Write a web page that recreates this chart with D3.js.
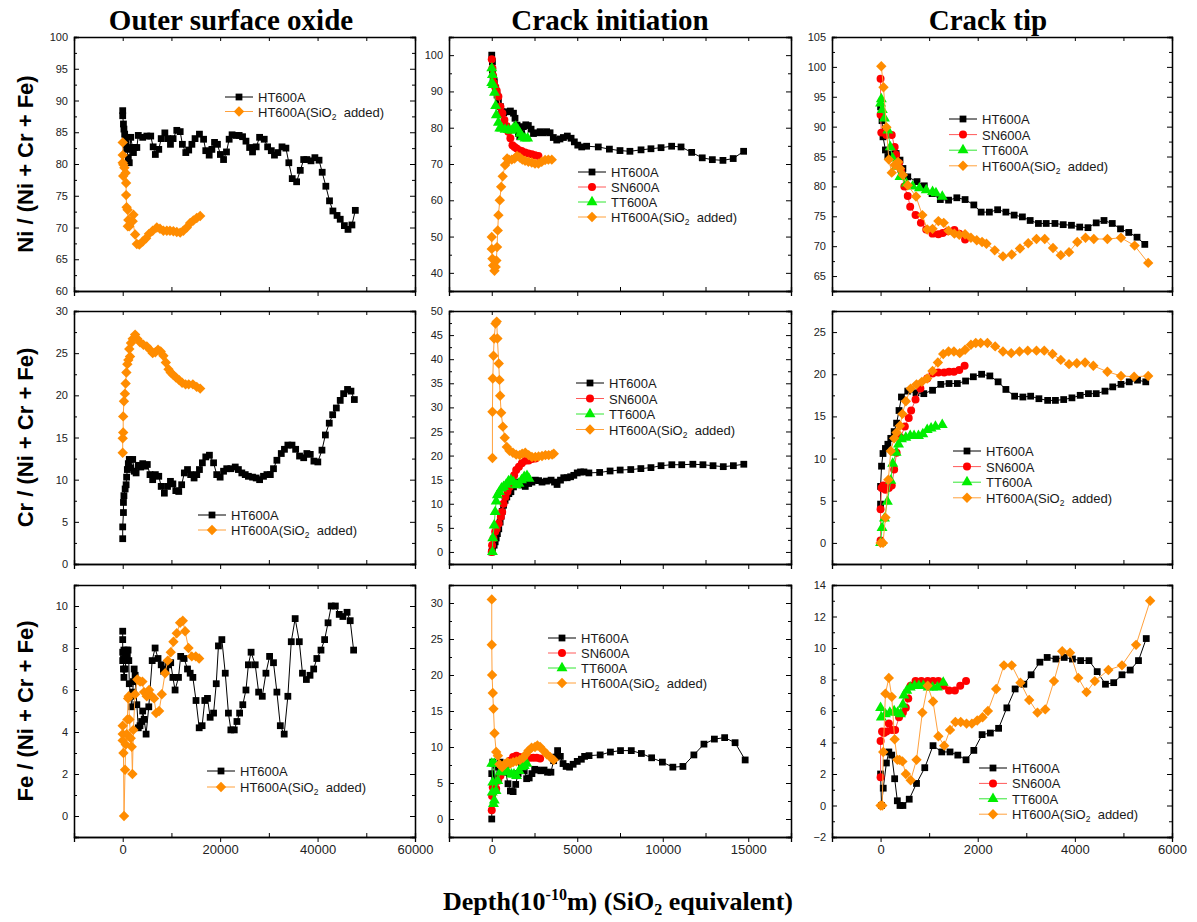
<!DOCTYPE html>
<html>
<head>
<meta charset="utf-8">
<script src="https://cdn.jsdelivr.net/npm/d3@7"></script>
<style>
  body { margin: 0; background: #fff; }
  svg { display: block; }
  text { white-space: pre; }
</style>
</head>
<body>
<svg id="chart" width="1197" height="922"></svg>
<script>
// Ni / Cr / Fe fractions vs depth, three locations, four materials

// --- Ni / (Ni + Cr + Fe) ---
var niOuterHT = [[0,88.4],[0,87.6],[150,86.3],[250,85.5],[400,84.7],[550,83.9],[700,83.1],[800,82.3],[1150,81.0],[1350,80.2],[1650,84.2],[2000,82.6],[2200,81.8],[2450,82.6],[2900,82.6],[3200,84.5],[4100,84.2],[4950,84.4],[5750,84.4],[6250,82.7],[6700,81.5],[7400,82.3],[7900,84.0],[8650,84.9],[9250,84.0],[9800,83.1],[10350,84.0],[11100,85.3],[11800,85.1],[12250,83.1],[12950,81.8],[13550,82.2],[14200,83.1],[14850,84.0],[15750,84.7],[16600,83.9],[17050,82.1],[17750,81.4],[18300,82.3],[18850,83.4],[19450,83.1],[20050,81.5],[20700,80.7],[21300,81.9],[21850,83.9],[22450,84.6],[23300,84.5],[23900,84.5],[24600,84.3],[25300,83.6],[26050,82.6],[26650,81.9],[27400,82.7],[28100,84.2],[29050,83.9],[29750,82.7],[30500,82.1],[31150,81.4],[31850,81.8],[32700,82.7],[33500,82.5],[34100,80.2],[34800,77.7],[35700,77.2],[36450,79.0],[37150,80.7],[37800,80.7],[38650,80.5],[39450,81.0],[40300,80.6],[40950,78.7],[41700,76.5],[42450,74.2],[43150,72.6],[44000,71.9],[44650,71.3],[45500,70.3],[46250,69.7],[47050,70.4],[47750,72.7]];
var niOuterSiO2 = [[0,83.4],[0,81.4],[0,80.2],[150,79.9],[350,79.4],[100,78.1],[600,78.6],[700,77.0],[700,75.1],[800,73.2],[1000,72.8],[1150,71.2],[1050,70.2],[1350,70.2],[1850,71.0],[2200,72.0],[2050,71.0],[2550,68.9],[2900,67.4],[3400,67.3],[4100,67.8],[4800,68.3],[5400,69.0],[6150,69.5],[7000,70.0],[7650,69.8],[8350,69.5],[9050,69.5],[9700,69.5],[10400,69.4],[11100,69.3],[11800,69.2],[12450,69.5],[13150,70.0],[13850,70.7],[14500,71.1],[15200,71.5],[15900,71.8]];

var niInitHT = [[0,100],[40,98.2],[40,95.9],[80,93.6],[150,92.7],[230,90.9],[310,89.0],[390,87.2],[510,85.8],[580,84.4],[700,84.1],[900,84.4],[1090,84.6],[1270,84.0],[1360,82.6],[1480,80.7],[1560,78.4],[1640,77.5],[1750,78.4],[1850,80.3],[1990,80.8],[2140,80.6],[2300,79.6],[2440,78.4],[2630,78.6],[2830,78.9],[3020,78.6],[3210,78.9],[3410,78.6],[3600,77.3],[3800,76.6],[3990,76.9],[4190,77.3],[4420,77.7],[4640,77.1],[4830,76.1],[5030,75.2],[5260,74.7],[5550,74.9],[6230,74.7],[6880,74.1],[7500,73.7],[8080,73.5],[8730,73.9],[9310,74.2],[9900,74.5],[10520,74.9],[11070,74.7],[11690,73.2],[12310,71.7],[12900,71.2],[13520,71.0],[14120,71.5],[14730,73.5]];
var niInitSN = [[0,98.9],[40,96.4],[80,94.3],[120,92.4],[200,91.2],[290,90.2],[390,88.6],[510,85.8],[620,84.0],[740,82.1],[860,80.5],[970,78.9],[1090,77.1],[1210,75.2],[1330,74.7],[1460,74.3],[1600,73.8],[1750,73.6],[1950,73.2],[2140,72.9],[2340,72.7],[2530,72.4],[2730,72.2]];
var niInitTT = [[0,96.4],[40,94.6],[0,92.4],[80,91.8],[160,89.7],[230,86.0],[270,83.5],[390,81.4],[470,79.8],[580,79.8],[780,79.5],[970,79.4],[1130,79.2],[1270,79.8],[1400,80.3],[1520,79.5],[1660,78.4],[1790,77.5],[1950,77.1],[2100,77.1]];
var niInitSiO2 = [[0,49.9],[0,46.6],[40,43.9],[80,42.0],[160,40.6],[230,41.6],[270,43.4],[310,47.1],[350,51.7],[390,55.9],[470,60.0],[550,63.7],[640,66.6],[780,69.7],[900,71.5],[1010,71.2],[1170,71.2],[1330,71.5],[1480,72.2],[1640,71.8],[1790,71.2],[1950,70.9],[2140,70.6],[2340,70.4],[2530,70.1],[2730,70.1],[2920,70.6],[3120,71.1],[3310,71.2],[3510,71.2]];

var niTipHT = [[0,93.3],[30,91.0],[50,88.3],[100,86.1],[150,85.0],[200,85.4],[290,85.4],[320,85.5],[400,84.4],[460,83.0],[560,81.6],[750,80.8],[900,80.1],[1060,78.8],[1230,77.8],[1400,77.7],[1570,78.1],[1740,77.8],[1920,76.9],[2070,75.7],[2240,75.7],[2410,76.1],[2580,75.7],[2750,75.2],[2920,74.9],[3080,74.3],[3250,73.8],[3410,73.8],[3590,73.8],[3760,73.6],[3930,73.5],[4100,73.2],[4270,73.1],[4440,73.9],[4600,74.3],[4770,73.8],[4940,72.9],[5110,72.3],[5280,71.5],[5440,70.3]];
var niTipSN = [[0,98.0],[0,92.0],[15,89.0],[120,88.6],[230,88.6],[290,86.6],[320,85.3],[380,83.9],[420,82.7],[490,80.0],[560,78.4],[610,76.6],[720,75.2],[830,73.9],[940,72.8],[1070,72.1],[1190,72.0],[1280,72.2],[1380,72.5],[1520,72.7],[1620,72.1],[1740,71.1]];
var niTipTT = [[0,93.9],[15,94.6],[35,92.8],[80,91.4],[150,89.4],[200,86.6],[250,84.7],[320,83.3],[400,81.6],[530,80.5],[660,80.0],[800,79.7],[940,79.4],[1070,79.1],[1140,78.9],[1270,78.3]];
var niTipSiO2 = [[15,100.1],[60,96.6],[120,89.9],[170,84.5],[230,82.3],[290,83.6],[360,84.1],[400,83.0],[460,81.9],[560,80.2],[730,78.3],[860,75.2],[960,72.8],[1070,72.9],[1190,74.2],[1300,73.9],[1400,72.6],[1520,72.1],[1620,71.9],[1740,72.0],[1860,71.4],[1980,71.0],[2090,70.7],[2180,70.4],[2350,69.3],[2520,68.3],[2700,68.6],[2870,69.6],[3040,70.5],[3210,71.2],[3380,71.2],[3550,69.7],[3710,68.5],[3880,69.0],[4050,70.7],[4220,71.4],[4390,71.2],[4670,71.2],[4950,71.4],[5230,70.1],[5510,67.2]];

// --- Cr / (Ni + Cr + Fe) ---
var crOuterHT = [[0,3.0],[0,4.4],[150,6.1],[150,7.3],[250,8.1],[500,8.9],[700,9.4],[800,10.3],[950,11.2],[1150,11.9],[1350,12.4],[1650,11.4],[2050,12.4],[2350,11.0],[2750,10.8],[3200,11.7],[3700,11.5],[4100,11.9],[4600,11.6],[5050,11.8],[5600,10.6],[6150,10.0],[6700,10.6],[7400,10.4],[7900,9.2],[8550,8.4],[9200,9.2],[9800,9.8],[10300,9.5],[10900,8.7],[11500,8.6],[12100,9.4],[12650,10.8],[13300,11.2],[13950,10.6],[14650,10.2],[15200,10.6],[15750,11.2],[16350,12.0],[17050,12.7],[17800,12.9],[18650,12.0],[19300,10.6],[20000,10.3],[20700,11.0],[21350,11.3],[22200,11.3],[23100,11.5],[23750,11.2],[24450,10.8],[25150,10.6],[25800,10.4],[26650,10.3],[27400,10.2],[28100,10.0],[28900,10.4],[29600,10.6],[30300,10.6],[30950,11.3],[31650,12.3],[32550,13.1],[33200,13.6],[33900,14.1],[34750,14.1],[35500,13.6],[36300,12.8],[37150,12.6],[37800,13.1],[38500,13.0],[39250,12.2],[40050,12.1],[40900,13.5],[41600,15.3],[42400,16.7],[43100,17.7],[43850,18.5],[44650,19.4],[45350,20.2],[46150,20.7],[46850,20.5],[47550,19.5]];
var crOuterSiO2 = [[0,13.2],[0,14.9],[100,15.6],[100,17.5],[250,19.3],[450,20.2],[600,21.4],[750,22.7],[950,23.7],[1150,24.2],[1500,24.6],[1350,25.5],[1700,26.2],[2050,26.7],[2550,27.2],[3000,26.7],[3550,26.3],[4250,26.0],[4950,25.8],[5600,25.4],[6150,25.0],[6700,25.1],[7250,25.4],[7800,25.2],[8350,24.7],[8850,23.9],[9400,23.1],[9850,22.7],[10400,22.4],[10950,22.1],[11600,21.8],[12200,21.5],[12900,21.3],[13550,21.3],[14400,21.3],[15200,21.0],[15900,20.8]];

var crInitHT = [[0,0],[40,0.7],[140,1.4],[200,2.1],[260,2.9],[330,3.8],[410,4.8],[490,6.2],[550,7.4],[610,8.4],[690,9.7],[780,10.7],[880,11.4],[1000,12.1],[1120,12.5],[1270,13.5],[1430,14.5],[1590,14.2],[1760,13.9],[1960,13.6],[2160,14.2],[2350,14.5],[2550,14.9],[2740,14.8],[2940,14.5],[3200,14.7],[3470,14.9],[3670,14.5],[3820,14.0],[4020,14.9],[4210,15.4],[4410,15.4],[4610,15.6],[4800,15.9],[5000,16.4],[5190,16.6],[5390,16.6],[5680,16.4],[6310,16.5],[6920,16.8],[7510,17.0],[8130,17.1],[8720,17.3],[9310,17.5],[9900,17.9],[10530,18.1],[11110,18.1],[11760,18.2],[12350,18.1],[12940,17.9],[13540,17.7],[14130,17.9],[14740,18.2]];
var crInitSN = [[0,0],[20,1.4],[100,2.8],[200,4.2],[290,4.8],[410,5.9],[530,7.3],[610,8.3],[690,10.0],[800,11.4],[920,12.5],[1040,13.5],[1180,14.5],[1310,15.9],[1430,17.0],[1590,17.7],[1760,18.4],[1960,18.9],[2160,19.0],[2350,19.3],[2550,19.4]];
var crInitTT = [[40,0],[60,2.9],[140,5.5],[200,8.3],[260,10.5],[330,11.8],[450,12.5],[570,13.2],[690,13.5],[840,14.0],[980,14.7],[1120,14.9],[1270,14.5],[1430,13.9],[1590,14.2],[1740,14.9],[1900,15.6],[2060,15.8],[2180,15.2]];
var crInitSiO2 = [[40,19.5],[40,29.1],[60,36.0],[100,40.7],[140,44.3],[220,47.4],[290,47.8],[330,44.3],[410,39.1],[450,35.7],[490,32.4],[550,28.9],[650,26.0],[760,23.7],[880,21.8],[1040,21.0],[1240,20.6],[1430,20.2],[1630,20.1],[1780,20.4],[1960,20.6],[2160,20.1],[2350,19.7],[2550,19.7],[2740,19.8],[2940,19.9],[3140,20.1],[3330,20.1],[3530,20.2],[3630,20.4]];

var crTipHT = [[0,4.6],[0,6.7],[20,9.1],[50,10.6],[100,11.2],[150,11.7],[210,12.4],[280,13.2],[330,14.2],[380,15.7],[430,17.3],[560,18.0],[730,17.8],[890,17.7],[1070,18.1],[1240,18.8],[1410,18.9],[1580,18.9],[1750,19.2],[1910,19.7],[2080,20.0],[2250,19.8],[2420,19.1],[2580,18.2],[2760,17.4],[2930,17.3],[3090,17.4],[3260,17.1],[3440,16.9],[3600,16.9],[3770,17.0],[3940,17.2],[4110,17.5],[4280,17.7],[4440,17.7],[4620,18.0],[4780,18.5],[4950,18.8],[5120,19.1],[5290,19.3],[5460,19.1]];
var crTipSN = [[0,0.3],[0,4.0],[20,6.5],[55,6.8],[100,6.3],[170,6.5],[230,6.8],[280,8.7],[330,10.7],[410,12.5],[500,13.8],[580,14.8],[630,15.7],[720,17.0],[820,18.3],[960,19.5],[1070,20.1],[1190,20.2],[1310,20.2],[1410,20.3],[1510,20.3],[1620,20.5],[1730,21.0]];
var crTipTT = [[0,0],[30,1.8],[80,2.9],[140,4.9],[210,7.4],[250,9.4],[320,10.7],[370,11.7],[430,12.3],[520,12.5],[610,12.7],[690,12.7],[780,12.7],[870,12.9],[960,13.4],[1040,13.6],[1130,13.8],[1270,14.0]];
var crTipSiO2 = [[0,0],[50,0],[100,3.0],[160,7.5],[210,10.9],[280,12.4],[330,13.1],[400,13.9],[450,15.3],[520,16.8],[620,18.3],[740,18.8],[850,19.1],[960,19.5],[1070,20.4],[1180,21.4],[1290,22.4],[1400,22.7],[1510,22.7],[1630,22.5],[1740,22.9],[1860,23.5],[1960,23.7],[2060,23.7],[2200,23.7],[2360,23.3],[2520,22.7],[2690,22.5],[2860,22.7],[3030,22.8],[3210,22.8],[3370,22.8],[3540,22.4],[3710,21.7],[3880,21.2],[4040,21.3],[4210,21.4],[4380,21.0],[4670,20.3],[4950,19.8],[5220,19.7],[5510,19.8]];

// --- Fe / (Ni + Cr + Fe) ---
var feOuterHT = [[0,8.8],[0,8.4],[0,7.8],[0,7.4],[150,7.5],[250,7.9],[150,7.0],[250,6.6],[500,7.0],[700,7.5],[800,7.9],[950,7.6],[1100,7.9],[1250,7.4],[1350,6.3],[1650,5.7],[1850,5.2],[2050,5.9],[2200,6.4],[2350,7.0],[2550,6.7],[2900,5.3],[3200,4.2],[3550,4.3],[3900,4.5],[4100,5.0],[4400,4.6],[4800,3.9],[5350,5.2],[6050,7.4],[6650,8.0],[7250,7.5],[7900,7.2],[8350,6.9],[8850,7.0],[9400,7.2],[9850,7.3],[10300,6.6],[10750,6.0],[11450,6.6],[11900,7.6],[12600,7.5],[13300,7.0],[13850,6.8],[14400,6.6],[15050,5.5],[15700,4.2],[16300,4.3],[16850,5.5],[17400,5.6],[17950,4.7],[18650,4.9],[19200,6.3],[19650,8.1],[20350,8.4],[21050,6.8],[21700,4.9],[22200,4.1],[22900,4.1],[23450,4.5],[24000,4.9],[24650,5.3],[25300,6.0],[25800,7.2],[26350,7.8],[27200,7.2],[27900,5.9],[28650,5.7],[29400,6.8],[30150,7.6],[30950,7.3],[31650,5.9],[32350,4.3],[33150,3.9],[33900,5.7],[34600,8.3],[35400,9.4],[36250,8.3],[36900,6.8],[37700,6.5],[38450,6.7],[39200,7.0],[39850,7.5],[40700,7.9],[41450,8.4],[42150,9.2],[42800,10.0],[43650,10.0],[44450,9.6],[45200,9.5],[46050,9.7],[46700,9.3],[47400,7.9]];
var feOuterSiO2 = [[0,4.3],[0,3.9],[0,3.6],[150,3.0],[270,0.0],[480,2.2],[620,3.4],[820,3.9],[960,4.6],[1100,5.6],[1230,5.7],[1370,4.6],[1650,3.7],[1850,3.3],[1990,2.0],[2190,4.1],[2540,5.8],[3010,6.5],[3560,6.4],[4040,6.4],[4380,5.9],[4930,5.7],[5410,6.0],[5960,5.7],[6440,5.6],[6850,4.9],[7470,5.0],[8020,5.8],[8700,6.8],[9250,7.4],[9860,7.8],[10410,8.3],[11100,8.7],[11780,9.2],[12330,9.3],[12810,8.8],[13500,8.0],[14180,7.6],[15000,7.6],[15690,7.5]];

var feInitHT = [[0,0],[0,6.3],[60,7.9],[220,5.6],[360,7.2],[490,7.9],[650,7.6],[810,6.5],[950,4.9],[1090,3.9],[1250,3.8],[1400,4.8],[1540,6.3],[1740,7.4],[1900,6.7],[2040,5.6],[2190,5.7],[2350,6.3],[2510,6.9],[2670,6.8],[2870,6.7],[3060,6.8],[3260,6.5],[3460,6.5],[3620,8.1],[3740,8.6],[3850,9.5],[4010,8.7],[4170,7.7],[4350,7.3],[4550,7.2],[4760,7.6],[5000,8.0],[5240,8.3],[5430,8.7],[5690,8.8],[6340,8.9],[6940,9.3],[7530,9.5],[8160,9.5],[8750,9.1],[9350,8.5],[9980,7.9],[10590,7.2],[11180,7.3],[11820,8.9],[12410,10.4],[13020,11.1],[13620,11.3],[14230,10.6],[14820,8.2]];
var feInitSN = [[0,1.2],[20,3.2],[60,4.4],[160,4.9],[260,4.2],[380,5.3],[510,6.0],[650,6.7],[850,7.4],[1050,8.1],[1250,8.6],[1440,8.8],[1640,8.6],[1840,8.5],[2040,8.7],[2230,8.5],[2430,8.5],[2630,8.5],[2830,8.4]];
var feInitTT = [[100,2.1],[150,2.6],[30,3.7],[60,5.1],[0,7.7],[150,7.7],[250,3.9],[350,5.3],[500,6.5],[650,6.9],[800,6.7],[950,6.5],[1150,6.2],[1300,6.2],[1450,6.0],[1600,6.7],[1750,7.2],[1900,7.4],[2050,7.7]];
var feInitSiO2 = [[0,30.5],[0,24.2],[20,20.0],[60,17.5],[100,15.3],[160,11.9],[260,9.3],[360,8.8],[450,7.6],[610,7.2],[750,7.6],[910,7.9],[1090,7.7],[1250,7.9],[1440,8.0],[1640,8.2],[1840,8.5],[2000,9.0],[2150,9.5],[2330,9.9],[2530,10.0],[2670,10.2],[2830,10.0],[3020,9.5],[3220,9.0],[3420,8.6],[3620,8.2]];

var feTipHT = [[0,2.0],[20,0],[55,1.1],[120,2.7],[170,3.4],[230,3.2],[290,1.7],[345,0.3],[400,0],[460,0],[590,0.4],[740,1.4],[910,2.4],[1080,3.8],[1260,3.4],[1430,3.4],[1590,3.2],[1760,2.9],[1920,3.5],[2090,4.5],[2260,4.6],[2430,4.9],[2600,6.2],[2770,7.4],[2950,7.7],[3100,8.3],[3280,9.1],[3430,9.4],[3610,9.3],[3780,9.4],[3950,9.3],[4120,9.2],[4290,9.2],[4460,8.5],[4630,7.7],[4800,7.8],[4970,8.3],[5140,8.6],[5310,9.2],[5470,10.6]];
var feTipSN = [[0,1.8],[0,4.1],[30,4.7],[70,4.6],[120,4.7],[170,5.2],[230,4.8],[300,4.8],[380,5.6],[460,5.9],[520,6.2],[570,6.8],[620,7.6],[720,7.9],[840,7.9],[970,7.9],[1080,7.9],[1190,7.9],[1300,7.6],[1410,7.3],[1530,7.3],[1640,7.6],[1760,7.9]];
var feTipTT = [[0,6.2],[15,5.6],[100,5.8],[190,5.9],[280,6.0],[350,5.9],[410,5.8],[460,6.4],[480,7.0],[540,7.3],[610,7.5],[700,7.6],[790,7.6],[880,7.6],[980,7.5],[1070,7.5],[1170,7.5],[1290,7.8]];
var feTipSiO2 = [[0,0],[35,0],[55,3.4],[100,7.1],[170,8.1],[230,6.9],[290,4.2],[345,2.9],[390,2.9],[450,2.8],[520,2.0],[620,1.6],[740,2.9],[860,5.9],[970,7.6],[1080,6.6],[1190,4.4],[1310,3.8],[1430,4.8],[1540,5.3],[1650,5.3],[1770,5.2],[1880,5.2],[1990,5.4],[2100,5.6],[2210,6.0],[2380,7.4],[2540,8.9],[2700,8.9],[2880,7.8],[3060,6.7],[3230,5.9],[3390,6.1],[3570,7.9],[3740,9.8],[3900,9.7],[4070,8.1],[4240,7.2],[4410,7.9],[4690,8.6],[4970,8.9],[5260,10.2],[5550,13.0]];

var columnTitles = ['Outer surface oxide', 'Crack initiation', 'Crack tip'];
var rowTitles = ['Ni / (Ni + Cr + Fe)', 'Cr / (Ni + Cr + Fe)', 'Fe / (Ni + Cr + Fe)'];

// x axis per column: domain, major ticks
var xDomains = [[-10000, 60000], [-2500, 17500], [-1000, 6000]];
var xMajorTicks = [[0, 20000, 40000, 60000], [0, 5000, 10000, 15000], [0, 2000, 4000, 6000]];

// y axis per panel [row][col]
var yDomains = [
    [[60, 100], [35, 105], [62.5, 105]],
    [[0, 30], [-2.5, 50], [-2.5, 27.5]],
    [[-1, 11], [-2.5, 32.5], [-2, 14]]
];
var yMajorTicks = [
    [d3.range(60, 101, 5), d3.range(40, 101, 10), d3.range(65, 106, 5)],
    [d3.range(0, 31, 5), d3.range(0, 51, 5), d3.range(0, 26, 5)],
    [d3.range(0, 11, 2), d3.range(0, 31, 5), d3.range(-2, 15, 2)]
];

var seriesData = [
    [{HT: niOuterHT, SI: niOuterSiO2}, {HT: niInitHT, SN: niInitSN, TT: niInitTT, SI: niInitSiO2}, {HT: niTipHT, SN: niTipSN, TT: niTipTT, SI: niTipSiO2}],
    [{HT: crOuterHT, SI: crOuterSiO2}, {HT: crInitHT, SN: crInitSN, TT: crInitTT, SI: crInitSiO2}, {HT: crTipHT, SN: crTipSN, TT: crTipTT, SI: crTipSiO2}],
    [{HT: feOuterHT, SI: feOuterSiO2}, {HT: feInitHT, SN: feInitSN, TT: feInitTT, SI: feInitSiO2}, {HT: feTipHT, SN: feTipSN, TT: feTipTT, SI: feTipSiO2}]
];

var seriesKeys = ['HT', 'SN', 'TT', 'SI'];
var seriesStyle = {
    HT: {label: 'HT600A', fill: '#000000', line: '#000000', shape: 'square'},
    SN: {label: 'SN600A', fill: '#ff0000', line: '#ff5a5a', shape: 'circle'},
    TT: {label: 'TT600A', fill: '#00ee00', line: '#33e633', shape: 'triangle'},
    SI: {label: 'HT600A(SiO', fill: '#ff8c00', line: '#ffa13d', shape: 'diamond'}
};

// layout
var colBox = [[74, 415], [449, 791], [832, 1172]];
var rowBox = [[37, 291], [311, 564], [585, 837]];
// legend: left x of line sample, y of first row, row step
var legendPos = [
    [[225, 97, 14.5], [578, 172, 15], [949, 119, 15.6]],
    [[198, 515, 15], [576, 383, 15.5], [953, 451, 15.6]],
    [[207, 771, 16], [548, 638, 15], [979, 768, 15.4]]
];

var svg = d3.select('#chart');

var symbolPath = {
    square: d3.symbol().type(d3.symbolSquare).size(46)(),
    circle: d3.symbol().type(d3.symbolCircle).size(50)(),
    triangle: d3.symbol().type(d3.symbolTriangle).size(52)(),
    diamond: 'M0,-5.2L5.2,0L0,5.2L-5.2,0Z'
};

function drawPanel(r, c) {
    var xs = d3.scaleLinear().domain(xDomains[c]).range(colBox[c]);
    var ys = d3.scaleLinear().domain(yDomains[r][c]).range([rowBox[r][1], rowBox[r][0]]);
    var x0 = colBox[c][0], x1 = colBox[c][1], y0 = rowBox[r][0], y1 = rowBox[r][1];

    var g = svg.append('g').attr('class', 'panel');

    var xMaj = xMajorTicks[c];
    var xStep = xMaj[1] - xMaj[0];
    var xMin = d3.range(xMaj[0] - xStep / 2, xDomains[c][1] + 1, xStep)
        .filter(function(v) { return v >= xDomains[c][0]; });
    var yMaj = yMajorTicks[r][c];
    var yStep = yMaj[1] - yMaj[0];
    var yMin = d3.range(yMaj[0] - yStep / 2, yDomains[r][c][1] + 0.001, yStep)
        .filter(function(v) { return v >= yDomains[r][c][0]; });

    // left axis: ticks inward
    g.append('g').attr('transform', 'translate(' + x0 + ',0)')
        .call(d3.axisLeft(ys).tickValues(yMaj).tickSize(-5).tickPadding(6).tickFormat(d3.format('d')))
        .call(styleAxis, 11);
    g.append('g').attr('transform', 'translate(' + x0 + ',0)')
        .call(d3.axisLeft(ys).tickValues(yMin).tickSize(-3).tickFormat(''))
        .call(styleAxis, 11);
    // right axis
    g.append('g').attr('transform', 'translate(' + x1 + ',0)')
        .call(d3.axisRight(ys).tickValues(yMaj).tickSize(-5).tickFormat(''))
        .call(styleAxis, 11);
    g.append('g').attr('transform', 'translate(' + x1 + ',0)')
        .call(d3.axisRight(ys).tickValues(yMin).tickSize(-3).tickFormat(''))
        .call(styleAxis, 11);
    // top axis
    g.append('g').attr('transform', 'translate(0,' + y0 + ')')
        .call(d3.axisTop(xs).tickValues(xMaj.concat(xMin)).tickSize(-4).tickFormat(''))
        .call(styleAxis, 11);
    // bottom axis: majors outward, minors inward
    var bottom = d3.axisBottom(xs).tickValues(xMaj).tickSize(5).tickPadding(3)
        .tickFormat(r === 2 ? d3.format('d') : '');
    g.append('g').attr('transform', 'translate(0,' + y1 + ')')
        .call(bottom)
        .call(styleAxis, 13);
    g.append('g').attr('transform', 'translate(0,' + y1 + ')')
        .call(d3.axisBottom(xs).tickValues(xMin).tickSize(-4).tickFormat(''))
        .call(styleAxis, 13);

    var line = d3.line()
        .x(function(d) { return xs(d[0]); })
        .y(function(d) { return ys(d[1]); });

    var sets = seriesData[r][c];
    seriesKeys.forEach(function(k) {
        if (!sets[k]) return;
        var st = seriesStyle[k];
        g.append('path')
            .datum(sets[k])
            .attr('d', line)
            .attr('fill', 'none')
            .attr('stroke', st.line)
            .attr('stroke-width', 1);
        g.append('g').selectAll('path')
            .data(sets[k])
            .enter().append('path')
            .attr('transform', function(d) { return 'translate(' + xs(d[0]) + ',' + ys(d[1]) + ')'; })
            .attr('d', symbolPath[st.shape])
            .attr('fill', st.fill);
    });

    // legend
    var lp = legendPos[r][c];
    var keys = seriesKeys.filter(function(k) { return sets[k]; });
    keys.forEach(function(k, i) {
        var st = seriesStyle[k];
        var ly = lp[1] + i * lp[2];
        var lg = g.append('g').attr('transform', 'translate(' + lp[0] + ',' + ly + ')');
        lg.append('line').attr('x1', 0).attr('x2', 28).attr('y1', 0).attr('y2', 0)
            .attr('stroke', st.line).attr('stroke-width', 1);
        lg.append('path').attr('transform', 'translate(14,0)')
            .attr('d', symbolPath[st.shape]).attr('fill', st.fill);
        var t = lg.append('text').attr('x', 33).attr('y', 5)
            .attr('font-family', 'Liberation Sans, Arial, sans-serif')
            .attr('font-size', 13).attr('fill', '#1a1a1a')
            .text(st.label);
        if (k === 'SI') {
            t.append('tspan').attr('font-size', 8.5).attr('dy', 3).text('2');
            t.append('tspan').attr('dy', -3).text('  added)');
        }
    });
}

function styleAxis(sel, fs) {
    sel.select('.domain').attr('stroke', '#000').attr('stroke-width', 1.3);
    sel.selectAll('.tick line').attr('stroke', '#000').attr('stroke-width', 1);
    sel.selectAll('.tick text')
        .attr('font-family', 'Liberation Sans, Arial, sans-serif')
        .attr('font-size', fs)
        .attr('fill', '#222');
}

for (var r = 0; r < 3; r++) {
    for (var c = 0; c < 3; c++) {
        drawPanel(r, c);
    }
}

// column titles
var titleX = [231, 610, 988];
columnTitles.forEach(function(t, i) {
    svg.append('text')
        .attr('x', titleX[i]).attr('y', 30)
        .attr('text-anchor', 'middle')
        .attr('font-family', 'Liberation Serif, Times New Roman, serif')
        .attr('font-weight', 'bold')
        .attr('font-size', 29)
        .text(t);
});

// row titles
rowTitles.forEach(function(t, i) {
    var cy = (rowBox[i][0] + rowBox[i][1]) / 2;
    svg.append('text')
        .attr('transform', 'translate(33,' + cy + ') rotate(-90)')
        .attr('text-anchor', 'middle')
        .attr('font-family', 'Liberation Sans, Arial, sans-serif')
        .attr('font-weight', 'bold')
        .attr('font-size', 22)
        .text(t);
});

// x axis title
var xt = svg.append('text')
    .attr('x', 618).attr('y', 910)
    .attr('text-anchor', 'middle')
    .attr('font-family', 'Liberation Serif, Times New Roman, serif')
    .attr('font-weight', 'bold')
    .attr('font-size', 26);
xt.append('tspan').text('Depth(10');
xt.append('tspan').attr('font-size', 16).attr('dy', -10).text('-10');
xt.append('tspan').attr('dy', 10).text('m) (SiO');
xt.append('tspan').attr('font-size', 16).attr('dy', 5).text('2');
xt.append('tspan').attr('dy', -5).text(' equivalent)');
</script>
</body>
</html>
